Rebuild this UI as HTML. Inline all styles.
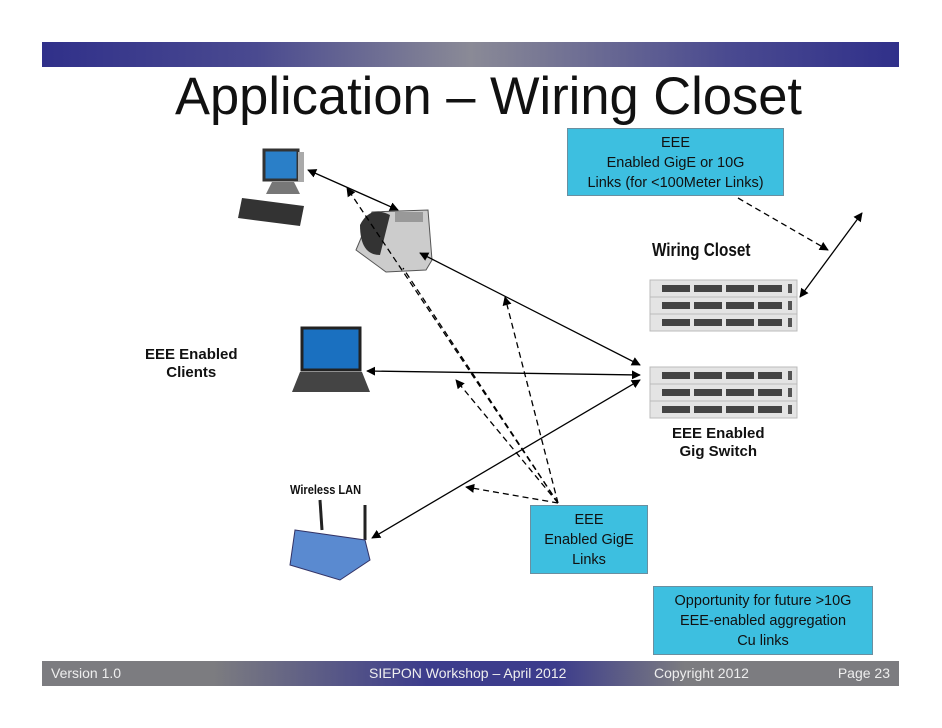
<!DOCTYPE html>
<html><head><meta charset="utf-8"><style>
body{margin:0;width:942px;height:728px;background:#fff;position:relative;overflow:hidden;font-family:"Liberation Sans",sans-serif}
.bar{position:absolute;left:42px;width:857px}
.box{position:absolute;background:#3dbfe0;border:1px solid #6a8fa0;text-align:center;font-size:14.5px;line-height:20px;color:#111}
.t{position:absolute;font-weight:bold;font-size:15px;color:#111}
</style></head><body>
<div class="bar" style="top:42px;height:25px;background:linear-gradient(90deg,#30308a 0%,#4a4a90 25%,#8a8a96 50%,#4a4a90 80%,#30308a 100%)"></div>
<div style="position:absolute;left:175px;top:66px;font-size:53px;line-height:62px;color:#111;transform:scaleX(0.99);transform-origin:left;white-space:nowrap">Application – Wiring Closet</div>
<div class="bar" style="top:661px;height:25px;background:linear-gradient(90deg,#7c7c80 0%,#7c7c80 20%,#3c3c8c 45%,#3c3c8c 60%,#7c7c80 75%,#7c7c80 100%);color:#eee;font-size:14px">
<span style="position:absolute;left:9px;top:4px">Version 1.0</span>
<span style="position:absolute;left:327px;top:4px">SIEPON Workshop – April  2012</span>
<span style="position:absolute;left:612px;top:4px">Copyright 2012</span>
<span style="position:absolute;right:9px;top:4px">Page 23</span></div>
<div class="box" style="left:567px;top:128px;width:217px;height:68px;padding-top:4px;box-sizing:border-box">EEE<br>Enabled GigE or 10G<br>Links (for &lt;100Meter Links)</div>
<div class="box" style="left:530px;top:505px;width:118px;height:69px;padding-top:4px;box-sizing:border-box">EEE<br>Enabled GigE<br>Links</div>
<div class="box" style="left:653px;top:586px;width:220px;height:69px;padding-top:4px;box-sizing:border-box">Opportunity for future &gt;10G<br>EEE-enabled aggregation<br>Cu links</div>
<div class="t" style="left:652px;top:240px;font-size:18px;transform:scaleX(0.85);transform-origin:left">Wiring Closet</div>
<div class="t" style="left:145px;top:346px;text-align:center;line-height:18px">EEE Enabled<br>Clients</div>
<div class="t" style="left:672px;top:425px;text-align:center;line-height:18px">EEE Enabled<br>Gig Switch</div>
<div class="t" style="left:290px;top:482px;font-size:13px;transform:scaleX(0.85);transform-origin:left">Wireless LAN</div>
<svg width="942" height="728" style="position:absolute;left:0;top:0">
<defs><marker id="a" viewBox="0 0 10 10" refX="9" refY="5" markerWidth="7" markerHeight="7" orient="auto-start-reverse"><path d="M0,0L10,5L0,10z" fill="#000"/></marker>
<g id="sw"><rect x="0" y="0" width="147" height="17" fill="#e4e4e4" stroke="#bbb"/><g fill="#444"><rect x="12" y="5" width="28" height="7"/><rect x="44" y="5" width="28" height="7"/><rect x="76" y="5" width="28" height="7"/><rect x="108" y="5" width="24" height="7"/></g><rect x="138" y="4" width="4" height="9" fill="#555"/></g></defs>
<use href="#sw" x="650" y="280"/><use href="#sw" x="650" y="297"/><use href="#sw" x="650" y="314"/>
<use href="#sw" x="650" y="367"/><use href="#sw" x="650" y="384"/><use href="#sw" x="650" y="401"/>
<rect x="264" y="150" width="34" height="30" fill="#2a7fc8" stroke="#333" stroke-width="3"/>
<rect x="298" y="152" width="6" height="30" fill="#aaa"/>
<path d="M272,182h22l6,12h-34z" fill="#777"/>
<path d="M242,198l62,8l-4,20l-62,-8z" fill="#333"/>
<path d="M372,212l56,-2l4,50l-6,10l-40,2l-30,-22z" fill="#ccc" stroke="#555"/>
<path d="M360,225q10,-20 30,-10l-10,40q-20,0 -20,-30z" fill="#333"/>
<rect x="395" y="212" width="28" height="10" fill="#999"/>
<rect x="302" y="328" width="58" height="42" fill="#1a70c0" stroke="#222" stroke-width="3"/>
<path d="M300,372h62l8,20h-78z" fill="#444"/>
<line x1="320" y1="500" x2="322" y2="530" stroke="#222" stroke-width="3"/>
<line x1="365" y1="505" x2="365" y2="540" stroke="#222" stroke-width="3"/>
<path d="M295,530l70,10l5,20l-30,20l-50,-15z" fill="#5a8ad0" stroke="#336"/>
<g stroke="#000" stroke-width="1.3" fill="none">
<line x1="308" y1="170" x2="398" y2="210" marker-start="url(#a)" marker-end="url(#a)"/>
<line x1="420" y1="253" x2="640" y2="365" marker-start="url(#a)" marker-end="url(#a)"/>
<line x1="367" y1="371" x2="640" y2="375" marker-start="url(#a)" marker-end="url(#a)"/>
<line x1="372" y1="538" x2="640" y2="380" marker-start="url(#a)" marker-end="url(#a)"/>
<line x1="862" y1="213" x2="800" y2="297" marker-start="url(#a)" marker-end="url(#a)"/>
<g stroke-dasharray="6,4">
<line x1="558" y1="503" x2="347" y2="188" marker-end="url(#a)"/>
<line x1="558" y1="503" x2="403" y2="268"/>
<line x1="558" y1="503" x2="505" y2="297" marker-end="url(#a)"/>
<line x1="558" y1="503" x2="456" y2="380" marker-end="url(#a)"/>
<line x1="558" y1="503" x2="466" y2="487" marker-end="url(#a)"/>
<line x1="738" y1="198" x2="828" y2="250" marker-end="url(#a)"/>
</g></g>
</svg>
</body></html>
